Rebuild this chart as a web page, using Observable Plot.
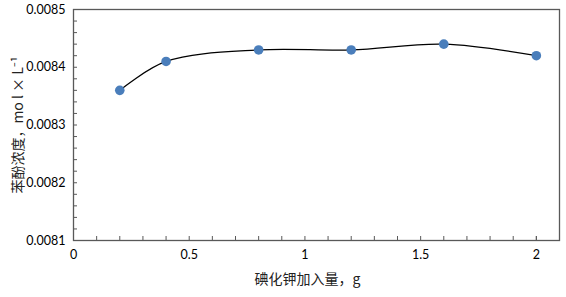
<!DOCTYPE html>
<html><head><meta charset="utf-8">
<script src="https://cdn.jsdelivr.net/npm/d3@7"></script>
<script src="https://cdn.jsdelivr.net/npm/@observablehq/plot@0.6"></script>
<style>body{margin:0;background:#fff}</style>
</head><body><div id="chart"></div>
<script>
const kiAmount = [0.2, 0.4, 0.8, 1.2, 1.6, 2.0];
const phenolConc = [0.00836, 0.00841, 0.00843, 0.00843, 0.00844, 0.00842];
const xTicks = [0, 0.5, 1, 1.5, 2];
const xTickLabels = ["0", "0.5", "1", "1.5", "2"];
const xMinor = [0.1,0.2,0.3,0.4,0.6,0.7,0.8,0.9,1.1,1.2,1.3,1.4,1.6,1.7,1.8,1.9,2.0];
const yTicks = [0.0081, 0.0082, 0.0083, 0.0084, 0.0085];
const yTickLabels = ["0.0081", "0.0082", "0.0083", "0.0084", "0.0085"];
const yMinor = [0.00812,0.00814,0.00816,0.00818,0.00822,0.00824,0.00826,0.00828,0.00832,0.00834,0.00836,0.00838,0.00842,0.00844,0.00846,0.00848];
const xLabel = "碘化钾加入量，g";
const yLabel = "苯酚浓度，mo l × L⁻¹";

const data = kiAmount.map((x, i) => ({x, y: phenolConc[i]}));
const axisColor = "#595959";
const cjkFont = "'Noto Sans CJK SC', sans-serif";

const chart = Plot.plot({
  width: 566,
  height: 297,
  marginLeft: 73,
  marginRight: 7,
  marginTop: 9,
  marginBottom: 57,
  style: {fontFamily: "Lato, 'Noto Sans CJK SC', sans-serif", fontSize: "12.5px", color: "#000", background: "#fff"},
  x: {domain: [0, 2.1]},
  y: {domain: [0.0081, 0.0085]},
  marks: [
    Plot.frame({stroke: axisColor, strokeWidth: 1.3}),
    Plot.axisX(xMinor, {tickSize: -4, text: null, stroke: axisColor, label: null}),
    Plot.axisX(xTicks, {tickSize: -4, stroke: axisColor, tickPadding: 14,
      tickFormat: (d) => xTickLabels[xTicks.indexOf(d)], label: null, fill: "#000"}),
    Plot.axisY(yMinor, {tickSize: -4, text: null, stroke: axisColor, label: null}),
    Plot.axisY(yTicks, {tickSize: -4, stroke: axisColor, tickPadding: 12,
      tickFormat: (d) => yTickLabels[yTicks.indexOf(d)], label: null, fill: "#000"}),
    Plot.text([xLabel], {frameAnchor: "bottom", dx: -9, dy: 39, lineAnchor: "middle",
      fontSize: 14, fontFamily: cjkFont, fill: "#222"}),
    Plot.text([yLabel], {frameAnchor: "left", rotate: -90, dx: -55, dy: 0, lineAnchor: "middle",
      textAnchor: "middle", fontSize: 14, fontFamily: cjkFont, fill: "#222"}),
    Plot.line(data, {x: "x", y: "y", curve: "catmull-rom", stroke: "#000", strokeWidth: 1.3}),
    Plot.dot(data, {x: "x", y: "y", r: 4.8, fill: "#4a7ebb", stroke: "none"})
  ]
});
document.getElementById("chart").appendChild(chart);
</script>
</body></html>
